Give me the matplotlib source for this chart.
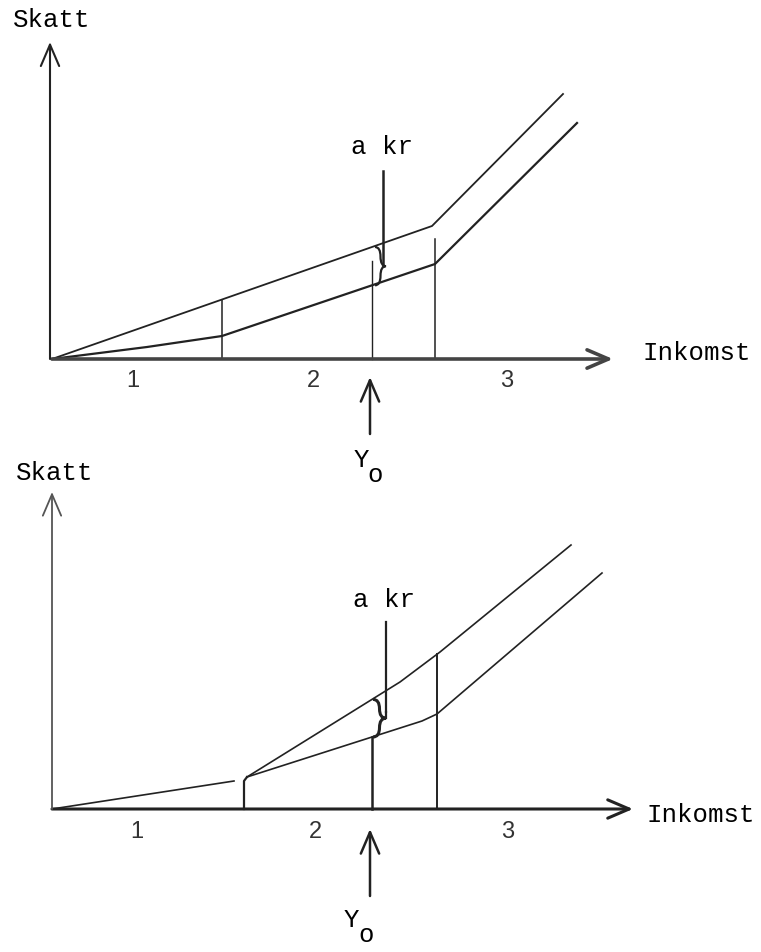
#!/usr/bin/env python3
# -*- coding: utf-8 -*-
"""
Skatt som funktion av inkomst: two hand-drawn style schematic panels.
"""

import numpy as np
import matplotlib
matplotlib.use('Agg')
import matplotlib.pyplot as plt
from matplotlib.path import Path
from matplotlib.patches import PathPatch

# ---- data (income units, tax units) ----
# top panel
top_upper_x = [0, 38.0, 51.1]
top_upper_y = [0, 13.3, 26.5]
top_lower_x = [0, 9.5, 17.0, 38.3, 52.5]
top_lower_y = [0, 1.2, 2.3, 9.5, 23.6]
top_bounds_x = [17.0, 38.3]
top_bounds_top = [5.95, 12.0]
top_akr_top = 18.8

# bottom panel
bot_base_x = [0, 18.2]
bot_base_y = [0, 2.8]
bot_step_x = [19.2, 19.2, 19.5]
bot_step_y = [0, 2.8, 3.2]
bot_upper_x = [19.5, 34.8, 38.8, 51.9]
bot_upper_y = [3.2, 12.7, 15.7, 26.4]
bot_lower_x = [19.5, 37.0, 38.5, 55.0]
bot_lower_y = [3.2, 8.8, 9.5, 23.6]
bot_bounds_x = [38.5]
bot_akr_top = 18.7

y0_income = 32.0
region_labels = ['1', '2', '3']
top_region_x = [8.1, 26.1, 45.5]
bot_region_x = [8.5, 26.3, 45.6]

MONO = 'Liberation Mono'
INK = '#222222'

fig = plt.figure(figsize=(7.61, 9.53), dpi=100)
ax_top = fig.add_axes([0, 0.5, 1, 0.5])
ax_bot = fig.add_axes([0, 0, 1, 0.5])
ax_top.set_xlim(-5.2, 70.9)
ax_top.set_ylim(-11.65, 36.0)
ax_bot.set_xlim(-5.2, 70.9)
ax_bot.set_ylim(-14.3, 33.35)
for ax in (ax_top, ax_bot):
    ax.axis('off')


def arrow(ax, x0, y0, x1, y1, lw=1.4, scale=22, color=INK):
    ax.annotate('', xy=(x1, y1), xytext=(x0, y0),
                arrowprops=dict(arrowstyle='->,head_length=0.7,head_width=0.3',
                                lw=lw, color=color, mutation_scale=scale,
                                shrinkA=0, shrinkB=0))


def brace(ax, x, yt, yb, w, lw=1.6):
    # curly brace "}" from yt down to yb, tip at x + w
    ym = (yt + yb) / 2
    d = min(1.0, (yt - yb) / 4)
    xm = x + w / 2
    verts = [(x, yt), (xm, yt), (xm, yt - d),
             (xm, ym + d),
             (xm, ym), (x + w, ym),
             (xm, ym), (xm, ym - d),
             (xm, yb + d),
             (xm, yb), (x, yb)]
    codes = [Path.MOVETO, Path.CURVE3, Path.CURVE3,
             Path.LINETO,
             Path.CURVE3, Path.CURVE3,
             Path.CURVE3, Path.CURVE3,
             Path.LINETO,
             Path.CURVE3, Path.CURVE3]
    ax.add_patch(PathPatch(Path(verts, codes), fill=False, lw=lw, ec=INK))
    return x + w, ym


# ================= top panel =================
ax = ax_top
# axes
arrow(ax, 0, 0, 56.1, 0, lw=2.6, color='#444444')
arrow(ax, -0.2, 0, -0.2, 31.7, lw=1.5)
ax.text(0, 34.0, 'Skatt', family=MONO, fontsize=18.5, ha='center', va='center')
ax.text(59.1, 0.7, 'Inkomst', family=MONO, fontsize=18.5, ha='left', va='center')

# tax schedules
ax.plot(top_upper_x, top_upper_y, color=INK, lw=1.3)
ax.plot(top_lower_x, top_lower_y, color=INK, lw=1.6)

# bracket boundaries
for bx, bt in zip(top_bounds_x, top_bounds_top):
    ax.plot([bx, bx], [0, bt], color=INK, lw=1.1)

# Y0 and the "a kr" gap
up_y0 = np.interp(y0_income, top_upper_x, top_upper_y)
lo_y0 = np.interp(y0_income, top_lower_x, top_lower_y)
ax.plot([y0_income, y0_income], [0, lo_y0 + 2.4], color=INK, lw=1.0)
tipx, tipy = brace(ax, y0_income + 0.3, up_y0, lo_y0, 1.1)
ax.plot([33.1, 33.1], [tipy, top_akr_top], color=INK, lw=1.8)
ax.text(33.0, 21.3, 'a kr', family=MONO, fontsize=18.5, ha='center', va='center')

for lx, lab in zip(top_region_x, region_labels):
    ax.text(lx, -2.1, lab, family='Liberation Sans', fontsize=17,
            color='#333333', ha='center', va='center')

arrow(ax, 31.8, -7.5, 31.8, -1.8, lw=1.8)
ax.text(30.9, -10.0, 'Y', family=MONO, fontsize=18.5, ha='center', va='center')
ax.text(32.3, -11.5, 'o', family=MONO, fontsize=18.5, ha='center', va='center')

# ================= bottom panel =================
ax = ax_bot
arrow(ax, 0, 0, 58.1, 0, lw=2.2)
arrow(ax, 0, 0, 0, 31.7, lw=1.3, color='#555555')
ax.text(0.3, 33.7, 'Skatt', family=MONO, fontsize=18.5, ha='center', va='center')
ax.text(59.5, -0.5, 'Inkomst', family=MONO, fontsize=18.5, ha='left', va='center')

ax.plot(bot_base_x, bot_base_y, color=INK, lw=1.2)
ax.plot(bot_step_x, bot_step_y, color=INK, lw=1.6)
ax.plot(bot_upper_x, bot_upper_y, color=INK, lw=1.2)
ax.plot(bot_lower_x, bot_lower_y, color=INK, lw=1.2)

for bx in bot_bounds_x:
    bt = np.interp(bx, bot_upper_x, bot_upper_y)
    ax.plot([bx, bx], [0, bt], color=INK, lw=1.4)

up_y0 = np.interp(y0_income, bot_upper_x, bot_upper_y)
lo_y0 = np.interp(y0_income, bot_lower_x, bot_lower_y)
ax.plot([y0_income, y0_income], [0, lo_y0], color=INK, lw=1.8)
tipx, tipy = brace(ax, y0_income + 0.1, up_y0, lo_y0, 1.3, lw=2.2)
ax.plot([33.4, 33.4], [tipy + 0.6, bot_akr_top], color=INK, lw=1.6)
ax.plot([tipx, 33.4], [tipy, tipy + 0.6], color=INK, lw=1.6)
ax.text(33.2, 21.0, 'a kr', family=MONO, fontsize=18.5, ha='center', va='center')

for lx, lab in zip(bot_region_x, region_labels):
    ax.text(lx, -2.2, lab, family='Liberation Sans', fontsize=17,
            color='#333333', ha='center', va='center')

arrow(ax, 31.8, -8.7, 31.8, -2.0, lw=1.8)
ax.text(29.9, -11.0, 'Y', family=MONO, fontsize=18.5, ha='center', va='center')
ax.text(31.4, -12.5, 'o', family=MONO, fontsize=18.5, ha='center', va='center')

plt.savefig('out.png', dpi=100)
